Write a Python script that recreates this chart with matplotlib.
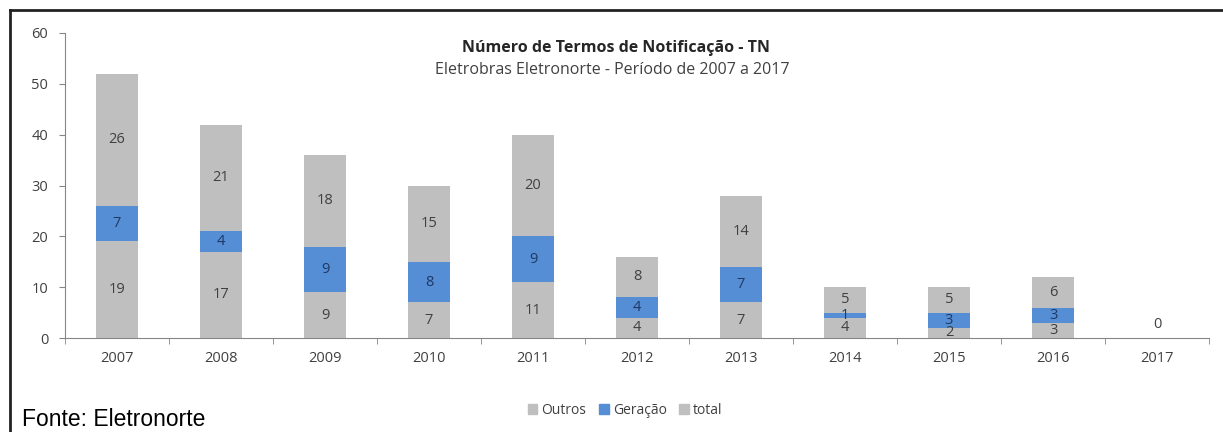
import matplotlib.pyplot as plt
import numpy as np
import matplotlib
from matplotlib.lines import Line2D
from matplotlib.patches import Patch

matplotlib.rcParams['font.family'] = ['Open Sans', 'DejaVu Sans']

anos = ['2007', '2008', '2009', '2010', '2011', '2012', '2013', '2014', '2015', '2016', '2017']
outros = [19, 17, 9, 7, 11, 4, 7, 4, 2, 3, 0]
geracao = [7, 4, 9, 8, 9, 4, 7, 1, 3, 3, 0]
total = [26, 21, 18, 15, 20, 8, 14, 5, 5, 6, 0]

cinza = '#BFBFBF'
azul = '#558ED5'
txt = '#404040'

fig = plt.figure(figsize=(12.23, 4.32), dpi=100)
ax = fig.add_axes([65/1223, 1-338/432, (1209-65)/1223, 305/432])

X = np.arange(len(anos))
b1 = np.array(outros)
b2 = b1 + np.array(geracao)
w = 0.4
ax.bar(X, outros, w, color=cinza)
ax.bar(X, geracao, w, bottom=b1, color=azul)
ax.bar(X, total, w, bottom=b2, color=cinza)

fs = 10.5
for x, o, g, t in zip(X, outros, geracao, total):
    if o + g + t == 0:
        ax.annotate('0', (x, 0), xytext=(0, 4), textcoords='offset points',
                    ha='center', va='bottom', fontsize=fs, color=txt)
        continue
    ax.text(x, o/2, str(o), ha='center', va='center', fontsize=fs, color=txt)
    ax.text(x, o + g/2, str(g), ha='center', va='center', fontsize=fs, color='#1F3864')
    ax.text(x, o + g + t/2, str(t), ha='center', va='center', fontsize=fs, color=txt)

ax.set_xlim(-0.5, len(anos) - 0.5)
ax.set_ylim(0, 60)
ax.set_yticks(range(0, 61, 10))
ax.set_xticks(X)
ax.set_xticklabels(anos)
ax.set_xticks(np.arange(-0.5, len(anos)), minor=True)
ax.tick_params(axis='x', which='major', length=0, pad=9, labelsize=10.5, labelcolor=txt)
ax.tick_params(axis='x', which='minor', length=4, color='#868686')
ax.tick_params(axis='y', length=4, color='#868686', labelsize=10.5, labelcolor=txt, pad=8)
for s in ['top', 'right']:
    ax.spines[s].set_visible(False)
for s in ['left', 'bottom']:
    ax.spines[s].set_color('#868686')

fig.text(616/1223, 1-48/432, 'Número de Termos de Notificação - TN', ha='center', va='center',
         fontsize=11.5, fontweight='bold', color='#262626')
fig.text(612/1223, 1-70/432, 'Eletrobras Eletronorte - Período de 2007 a 2017', ha='center', va='center',
         fontsize=11.5, color='#404040')

handles = [Patch(color=cinza), Patch(color=azul), Patch(color=cinza)]
fig.legend(handles, ['Outros', 'Geração', 'total'], loc='center', bbox_to_anchor=(625/1223, 1-410/432),
           ncol=3, frameon=False, fontsize=10, handlelength=0.7, handleheight=0.7,
           handletextpad=0.3, columnspacing=0.9, labelcolor='#404040')

fig.text(22/1223, 1-419/432, 'Fonte: Eletronorte', ha='left', va='center', fontsize=16.5,
         family='Liberation Sans', color='black')

# moldura (topo e esquerda)
fig.add_artist(Line2D([10/1223, 1], [1-10/432, 1-10/432], color='#222222', lw=2, transform=fig.transFigure))
fig.add_artist(Line2D([10/1223, 10/1223], [0, 1-10/432], color='#222222', lw=2, transform=fig.transFigure))

fig.savefig('out.png', dpi=100)
